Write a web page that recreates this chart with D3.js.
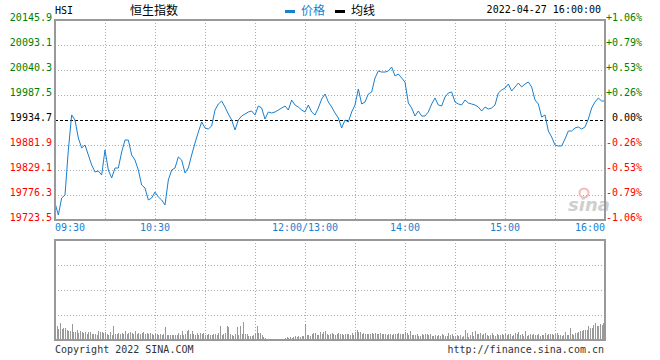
<!DOCTYPE html>
<html>
<head>
<meta charset="utf-8">
<script src="https://cdn.jsdelivr.net/npm/d3@7"></script>
<style>
  body { margin: 0; background: #fff; }
  svg { display: block; }
</style>
</head>
<body>
<svg id="chart" width="660" height="360"></svg>
<script>
// HSI intraday 2022-04-27, one price every 2 minutes from 09:30 (lunch break removed)
let basePrice = 19934.7
let priceData = [
  19759.4, 19734.1, 19770.0, 19776.3, 19871.3, 19945.3, 19934.7, 19896.7, 19875.6, 19881.9,
  19860.8, 19839.7, 19824.9, 19827.0, 19818.6, 19871.3, 19829.1, 19812.2, 19833.3, 19833.3,
  19867.1, 19892.4, 19892.4, 19860.8, 19850.2, 19829.1, 19797.4, 19791.1, 19765.7, 19770.0,
  19782.6, 19772.1, 19765.7, 19755.2, 19808.0, 19829.1, 19833.3, 19856.6, 19850.2, 19822.8,
  19833.3, 19860.8, 19886.1, 19909.3, 19930.5, 19917.8, 19915.7, 19922.0, 19955.8, 19968.5,
  19974.8, 19962.1, 19947.4, 19934.7, 19913.6, 19934.7, 19943.1, 19947.4, 19951.6, 19953.7,
  19945.3, 19964.3, 19960.0, 19936.8, 19951.6, 19949.5, 19951.6, 19955.8, 19960.0, 19964.3,
  19955.8, 19976.9, 19966.4, 19962.1, 19955.8, 19951.6, 19966.4, 19951.6, 19945.3, 19960.0,
  19979.0, 19989.6, 19972.7, 19962.1, 19949.5, 19938.9, 19917.8, 19934.7, 19930.5, 19951.6,
  19966.4, 20000.2, 19968.5, 19972.7, 19989.6, 19993.8, 20023.4, 20038.2, 20036.0, 20036.0,
  20038.2, 20046.6, 20027.6, 20031.8, 20023.4, 20014.9, 19970.6, 19960.0, 19943.1, 19953.7,
  19943.1, 19943.1, 19951.6, 19968.5, 19981.1, 19966.4, 19964.3, 19983.3, 19991.7, 19993.8,
  19972.7, 19968.5, 19966.4, 19976.9, 19970.6, 19968.5, 19966.4, 19962.1, 19953.7, 19962.1,
  19957.9, 19960.0, 19966.4, 19991.7, 19998.0, 20002.2, 20010.7, 19995.9, 20004.4, 20012.8,
  20004.4, 20010.7, 20014.9, 20004.4, 19976.9, 19968.5, 19941.0, 19945.3, 19911.5, 19898.8,
  19881.9, 19879.8, 19879.8, 19894.6, 19911.5, 19911.5, 19917.8, 19919.9, 19915.7, 19919.9,
  19936.8, 19960.0, 19972.7, 19981.1, 19974.8, 19974.8
]

// volume, one bar per minute (relative units)
let volData = [
  17, 14, 11, 17, 11, 12, 12, 10, 9, 9, 16, 8, 8, 10, 7, 9, 8, 7, 8, 6, 8, 8, 6, 6, 6, 5, 9, 8, 8, 7,
  8, 6, 5, 8, 5, 14, 6, 6, 7, 6, 7, 6, 9, 6, 7, 8, 7, 6, 9, 6, 7, 6, 7, 8, 6, 7, 6, 7, 6, 5,
  6, 6, 5, 6, 5, 6, 13, 5, 5, 5, 5, 5, 5, 5, 7, 5, 9, 5, 6, 9, 10, 6, 9, 6, 5, 7, 5, 7, 6, 7,
  5, 5, 6, 5, 5, 6, 6, 5, 7, 14, 5, 6, 7, 14, 13, 6, 5, 4, 6, 13, 5, 14, 6, 18, 6, 6, 4, 4, 4, 5,
  7, 14, 7, 7, 5, 3, 2, 1, 1, 1, 1, 1, 1, 1, 1, 1, 1, 1, 2, 3, 2, 3, 2, 3, 4, 3, 4, 3, 4, 4,
  16, 5, 5, 4, 6, 7, 7, 5, 5, 8, 6, 8, 9, 6, 5, 6, 7, 6, 5, 6, 7, 6, 6, 5, 6, 6, 6, 5, 7, 5,
  8, 10, 8, 8, 6, 7, 6, 6, 6, 6, 7, 6, 7, 6, 6, 7, 6, 6, 6, 5, 6, 6, 5, 6, 6, 6, 7, 6, 6, 6,
  8, 7, 5, 9, 5, 5, 5, 6, 4, 4, 6, 5, 6, 6, 5, 6, 4, 4, 5, 4, 5, 4, 6, 5, 4, 4, 7, 5, 6, 4,
  4, 5, 4, 5, 3, 4, 10, 7, 3, 5, 8, 4, 9, 6, 6, 7, 5, 6, 7, 5, 4, 5, 7, 5, 4, 6, 5, 5, 6, 5,
  7, 5, 6, 6, 4, 5, 7, 6, 8, 5, 6, 4, 9, 4, 5, 6, 5, 6, 5, 5, 6, 4, 5, 5, 7, 5, 6, 6, 6, 5,
  6, 7, 5, 5, 4, 5, 8, 5, 5, 12, 6, 5, 7, 7, 8, 9, 9, 10, 10, 10, 14, 12, 12, 15, 17, 14, 14, 16, 15, 17, 19
]

let priceTicks = [20145.9, 20093.1, 20040.3, 19987.5, 19934.7, 19881.9, 19829.1, 19776.3, 19723.5]
let timeLabels = ['09:30', '10:30', '12:00/13:00', '14:00', '15:00', '16:00']
let timeMinutes = [0, 60, 150, 210, 270, 330]

let mono = "'DejaVu Sans Mono', 'Liberation Mono', monospace"
let cjk = "'Noto Sans CJK SC', sans-serif"
let lineColor = '#1a7fce'
let gridColor = '#aaa'
let borderColor = '#999'

let left = 55, right = 605
let top1 = 20, bottom1 = 220
let top2 = 240, bottom2 = 340

let svg = d3.select('#chart')

let x = d3.scaleLinear().domain([0, 330]).range([left, right])
let y = d3.scaleLinear().domain([19723.5, 20145.9]).range([bottom1, top1])
let yVol = d3.scaleLinear().domain([0, 100]).range([bottom2, top2])

let colorOf = v => v > basePrice + 0.01 ? '#008000' : (v < basePrice - 0.01 ? '#ff0000' : '#000')
let pctText = v => {
  let p = (v / basePrice - 1) * 100
  let s = Math.abs(p).toFixed(2) + '%'
  if (Math.abs(p) < 0.005) return s
  return (p > 0 ? '+' : '-') + s
}

// grid lines, every 30 minutes
let gridMinutes = d3.range(30, 330, 30)
let grid = svg.append('g').attr('stroke', gridColor).attr('stroke-dasharray', '1,2')
  .attr('shape-rendering', 'crispEdges')
grid.selectAll('line.v1').data(gridMinutes).join('line').attr('class', 'v1')
  .attr('x1', d => Math.round(x(d)) + 0.5).attr('x2', d => Math.round(x(d)) + 0.5)
  .attr('y1', top1).attr('y2', bottom1)
grid.selectAll('line.v2').data(gridMinutes).join('line').attr('class', 'v2')
  .attr('x1', d => Math.round(x(d)) + 0.5).attr('x2', d => Math.round(x(d)) + 0.5)
  .attr('y1', top2).attr('y2', bottom2)
grid.selectAll('line.h1').data(priceTicks.slice(1, -1).filter(v => v !== basePrice)).join('line')
  .attr('class', 'h1')
  .attr('x1', left).attr('x2', right)
  .attr('y1', d => Math.round(y(d)) + 0.5).attr('y2', d => Math.round(y(d)) + 0.5)
grid.selectAll('line.h2').data([1, 2, 3]).join('line').attr('class', 'h2')
  .attr('x1', left).attr('x2', right)
  .attr('y1', d => top2 + d * 25 + 0.5).attr('y2', d => top2 + d * 25 + 0.5)

// previous close line
svg.append('line')
  .attr('x1', left).attr('x2', right)
  .attr('y1', Math.round(y(basePrice)) + 0.5).attr('y2', Math.round(y(basePrice)) + 0.5)
  .attr('stroke', '#000').attr('stroke-dasharray', '3,2')

// sina watermark
let wm = svg.append('g')
wm.append('circle').attr('cx', 584).attr('cy', 193).attr('r', 4.5)
  .attr('fill', 'none').attr('stroke', '#f4b8b8').attr('stroke-width', 2)
wm.append('text').attr('x', 568).attr('y', 211)
  .attr('font-family', "'DejaVu Sans', sans-serif").attr('font-size', 18)
  .attr('font-style', 'italic').attr('font-weight', 'bold')
  .attr('fill', '#cfcfcf').text('sina')

// price line
let line = d3.line().x((d, i) => x(i * 2)).y(d => y(d))
svg.append('path').datum(priceData)
  .attr('d', line)
  .attr('fill', 'none').attr('stroke', lineColor).attr('stroke-width', 1)

// volume bars
svg.append('g').selectAll('rect').data(volData).join('rect')
  .attr('x', (d, i) => Math.round(x(i)))
  .attr('y', d => yVol(d))
  .attr('width', 1)
  .attr('height', d => bottom2 - yVol(d))
  .attr('fill', '#999')
  .attr('shape-rendering', 'crispEdges')

// panel borders
let border = svg.append('g').attr('fill', 'none').attr('stroke', borderColor)
  .attr('stroke-width', 1.5).attr('shape-rendering', 'crispEdges')
border.append('rect').attr('x', left).attr('y', top1).attr('width', right - left).attr('height', bottom1 - top1)
border.append('rect').attr('x', left).attr('y', top2).attr('width', right - left).attr('height', bottom2 - top2)

// y labels
let lbl = svg.append('g').attr('font-family', mono).attr('font-size', 10)
lbl.selectAll('text.l').data(priceTicks).join('text').attr('class', 'l')
  .attr('x', 52).attr('y', d => y(d) + 0.5)
  .attr('text-anchor', 'end')
  .attr('fill', colorOf)
  .text(d => d.toFixed(1))
lbl.selectAll('text.r').data(priceTicks).join('text').attr('class', 'r')
  .attr('x', 642).attr('y', d => y(d) + 0.5)
  .attr('text-anchor', 'end')
  .attr('fill', colorOf)
  .text(pctText)

// x labels
lbl.selectAll('text.t').data(timeLabels).join('text').attr('class', 't')
  .attr('x', (d, i) => x(timeMinutes[i]))
  .attr('y', 231)
  .attr('text-anchor', (d, i) => i === 0 ? 'start' : (i === timeLabels.length - 1 ? 'end' : 'middle'))
  .attr('fill', '#1a7fce')
  .text(d => d)

// header
lbl.append('text').attr('x', 55).attr('y', 14).attr('fill', '#000').text('HSI')
svg.append('text').attr('x', 130).attr('y', 15)
  .attr('font-family', cjk).attr('font-size', 12).attr('fill', '#000').text('恒生指数')
svg.append('rect').attr('x', 285).attr('y', 10).attr('width', 10).attr('height', 3).attr('fill', lineColor)
svg.append('text').attr('x', 301).attr('y', 15)
  .attr('font-family', cjk).attr('font-size', 12).attr('fill', lineColor).text('价格')
svg.append('rect').attr('x', 335).attr('y', 10).attr('width', 10).attr('height', 3).attr('fill', '#000')
svg.append('text').attr('x', 351).attr('y', 15)
  .attr('font-family', cjk).attr('font-size', 12).attr('fill', '#000').text('均线')
lbl.append('text').attr('x', 601).attr('y', 13).attr('text-anchor', 'end')
  .attr('fill', '#000').text('2022-04-27 16:00:00')

// footer
lbl.append('text').attr('x', 55).attr('y', 353).attr('fill', '#333').text('Copyright 2022 SINA.COM')
lbl.append('text').attr('x', 604).attr('y', 353).attr('text-anchor', 'end')
  .attr('fill', '#333').text('http://finance.sina.com.cn')
</script>
</body>
</html>
